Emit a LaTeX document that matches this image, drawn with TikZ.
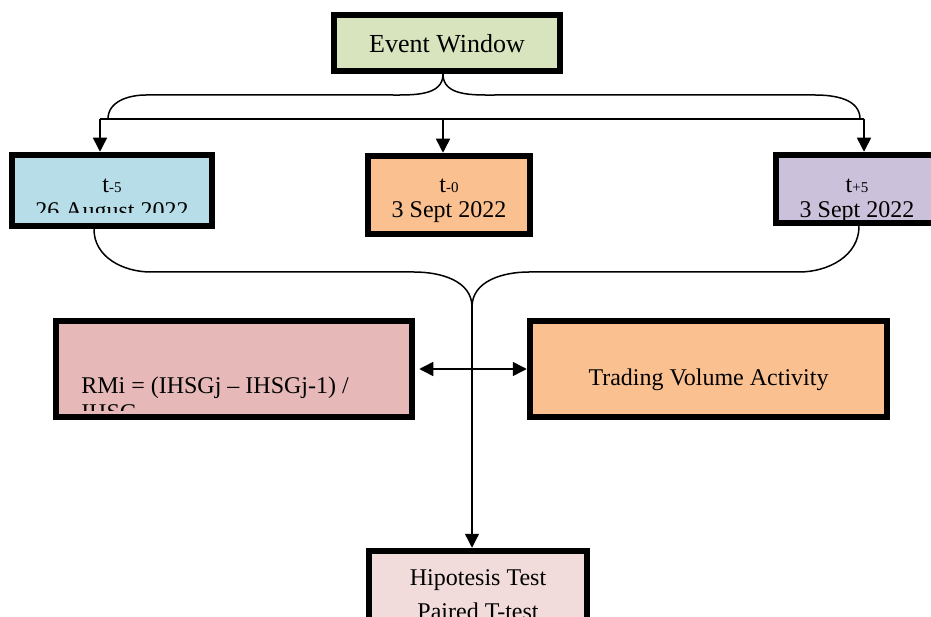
\documentclass[tikz,border=0pt]{standalone}
\usepackage{fontspec}
\setmainfont{Liberation Serif}
\usetikzlibrary{arrows.meta, calc}

\definecolor{ewgreen}{HTML}{D7E4BD}
\definecolor{tblue}{HTML}{B7DEE8}
\definecolor{torange}{HTML}{FAC090}
\definecolor{tpurple}{HTML}{CCC1DA}
\definecolor{rmrose}{HTML}{E6B9B8}
\definecolor{hyppink}{HTML}{F2DCDB}

\tikzset{
  box/.style={draw=black, line width=6.5pt, fill=#1, inner sep=0pt},
  lbl/.style={anchor=base, inner sep=0pt, minimum width=0pt, minimum height=0pt, font=\fontsize{24}{28}\selectfont},
  wire/.style={line width=1.5pt},
  arr/.style={wire, -{Triangle[length=14pt,width=14pt]}},
  arrs/.style={wire, {Triangle[length=14pt,width=14pt]}-{Triangle[length=14pt,width=14pt]}},
}
\newcommand{\tsub}[1]{{\fontsize{15}{15}\selectfont #1}}

\begin{document}
\begin{tikzpicture}[x=1pt, y=1pt]
    \useasboundingbox (0,0) rectangle (931,-617);
    \clip (0,0) rectangle (931,-617);

    % boxes
    \node[box=ewgreen, minimum width=226pt, minimum height=56pt, path picture={
        \node[lbl, font=\fontsize{26}{30}\selectfont] (ewtxt) at ($(path picture bounding box.north)+(0pt,-38pt)$) {Event Window};
    }] (ew) at (447,-43) {};

    \node[box=tblue, minimum width=200pt, minimum height=71pt, path picture={
        \clip (path picture bounding box.north west) rectangle ($(path picture bounding box.north east)+(0pt,-58pt)$);
        \node[lbl] (tmtxta) at ($(path picture bounding box.north)+(0pt,-38pt)$) {t\tsub{-5}};
        \node[lbl] (tmtxtb) at ($(path picture bounding box.north)+(0pt,-64pt)$) {26 August 2022};
    }] (tm5) at (112,-190.5) {};

    \node[box=torange, minimum width=162pt, minimum height=78pt, path picture={
        \node[lbl] (tztxta) at ($(path picture bounding box.north)+(0pt,-37pt)$) {t\tsub{-0}};
        \node[lbl] (tztxtb) at ($(path picture bounding box.north)+(0pt,-62pt)$) {3 Sept 2022};
    }] (t0) at (449,-195) {};

    \node[box=tpurple, minimum width=162pt, minimum height=68pt, path picture={
        \node[lbl] (tptxta) at ($(path picture bounding box.north)+(0pt,-38pt)$) {t\tsub{+5}};
        \node[lbl] (tptxtb) at ($(path picture bounding box.north)+(0pt,-63pt)$) {3 Sept 2022};
    }] (tp5) at (857,-189) {};

    \node[box=rmrose, minimum width=356pt, minimum height=96pt, path picture={
        \clip (path picture bounding box.north west) rectangle ($(path picture bounding box.north east)+(0pt,-89pt)$);
        \node[lbl, anchor=base west] (rmtxta) at ($(path picture bounding box.north west)+(22pt,-72pt)$) {RMi = (IHSGj – IHSGj-1) /};
        \node[lbl, anchor=base west] (rmtxtb) at ($(path picture bounding box.north west)+(22pt,-99pt)$) {IHSG};
    }] (rmi) at (234,-369) {};

    \node[box=torange, minimum width=357pt, minimum height=96pt, path picture={
        \node[lbl] (tvtxt) at ($(path picture bounding box.north)+(0pt,-64pt)$) {Trading Volume Activity};
    }] (tva) at (708.5,-369) {};

    \node[box=hyppink, minimum width=218pt, minimum height=86pt, path picture={
        \node[lbl] (hytxta) at ($(path picture bounding box.north)+(0pt,-34pt)$) {Hipotesis Test};
        \node[lbl] (hytxtb) at ($(path picture bounding box.north)+(0pt,-68pt)$) {Paired T-test};
    }] (hyp) at (478,-594) {};

    % top brace
    \coordinate (ewtip) at ([xshift=-4pt]ew.south);
    \draw[wire] (ewtip) to[out=-90, in=0] (391,-95) -- (146,-95) to[out=180, in=90] (108,-119);
    \draw[wire] (ewtip) to[out=-90, in=180] (496,-95) -- (815,-95) to[out=0, in=90] (860,-119);

    \coordinate (barL) at (100,-119);
    \coordinate (barM) at (443,-119);
    \coordinate (barR) at (864,-119);
    \draw[wire] (barL) -- (barR);
    \draw[arr] (barL) -- (barL |- tm5.north);
    \draw[arr] (barM) -- (barM |- t0.north);
    \draw[arr] (barR) -- (barR |- tp5.north);

    % lower brace
    \coordinate (lowtip) at (472,-307);
    \draw[wire] ([xshift=-18pt]tm5.south) to[out=-90, in=180] (151,-272) -- (414,-272) to[out=0, in=90] (lowtip);
    \draw[wire] ([xshift=2pt]tp5.south) to[out=-90, in=0] (799,-272) -- (529,-272) to[out=180, in=90] (lowtip);
    \draw[arr] (lowtip) -- (lowtip |- hyp.north);

    \draw[arrs] ([xshift=4pt]rmi.east) -- (tva.west);
\end{tikzpicture}
\end{document}
